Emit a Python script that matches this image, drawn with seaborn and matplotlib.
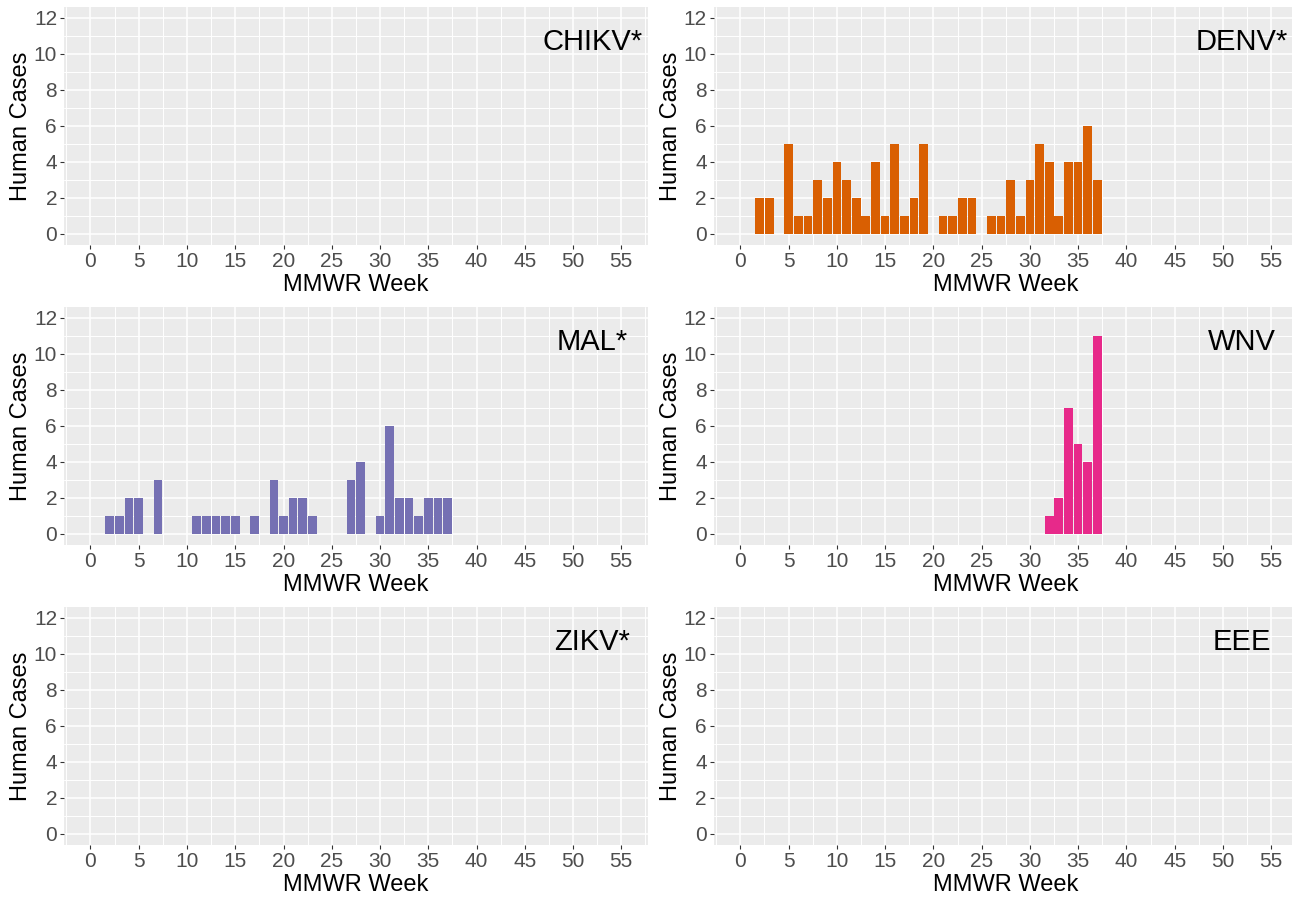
import numpy as np
import pandas as pd
import matplotlib
matplotlib.use("Agg")
import matplotlib.pyplot as plt
import seaborn as sns
from matplotlib.ticker import MultipleLocator

# panel order and colours (Dark2)
diseases = ["CHIKV*", "DENV*", "MAL*", "WNV", "ZIKV*", "EEE"]
colors = ["#1B9E77", "#D95F02", "#7570B3", "#E7298A", "#66A61E", "#E6AB02"]

# human cases by MMWR week
denv_weeks = [2, 3, 5, 6, 7, 8, 9, 10, 11, 12, 13, 14, 15, 16, 17, 18, 19,
              21, 22, 23, 24, 26, 27, 28, 29, 30, 31, 32, 33, 34, 35, 36, 37]
denv_cases = [2, 2, 5, 1, 1, 3, 2, 4, 3, 2, 1, 4, 1, 5, 1, 2, 5,
              1, 1, 2, 2, 1, 1, 3, 1, 3, 5, 4, 1, 4, 4, 6, 3]

mal_weeks = [2, 3, 4, 5, 7, 11, 12, 13, 14, 15, 17, 19, 20, 21, 22, 23,
             27, 28, 30, 31, 32, 33, 34, 35, 36, 37]
mal_cases = [1, 1, 2, 2, 3, 1, 1, 1, 1, 1, 1, 3, 1, 2, 2, 1,
             3, 4, 1, 6, 2, 2, 1, 2, 2, 2]

wnv_weeks = [32, 33, 34, 35, 36, 37]
wnv_cases = [1, 2, 7, 5, 4, 11]

chikv_weeks, chikv_cases = [], []
zikv_weeks, zikv_cases = [], []
eee_weeks, eee_cases = [], []

all_weeks = [chikv_weeks, denv_weeks, mal_weeks, wnv_weeks, zikv_weeks, eee_weeks]
all_cases = [chikv_cases, denv_cases, mal_cases, wnv_cases, zikv_cases, eee_cases]

sns.set_theme(style="darkgrid", rc={
    "axes.facecolor": "#EBEBEB",
    "grid.color": "white",
    "axes.edgecolor": "#EBEBEB",
})
plt.rcParams["font.family"] = ["Liberation Sans", "DejaVu Sans"]

fig = plt.figure(figsize=(12.92, 8.99), dpi=100)

lefts = [0.0495, 0.5525]
bottoms = [0.7277, 0.394, 0.0603]
w, h = 0.4519, 0.2643

for i, name in enumerate(diseases):
    r, c = divmod(i, 2)
    ax = fig.add_axes([lefts[c], bottoms[r], w, h])
    df = pd.DataFrame({"week": all_weeks[i], "cases": all_cases[i]})
    if len(df) > 0:
        sns.barplot(data=df, x="week", y="cases", native_scale=True,
                    color=colors[i], saturation=1, width=0.9,
                    errorbar=None, ax=ax, linewidth=0)
    ax.set_xlim(-2.75, 57.75)
    ax.set_ylim(-0.6, 12.6)
    ax.xaxis.set_major_locator(MultipleLocator(5))
    ax.xaxis.set_minor_locator(MultipleLocator(2.5))
    ax.yaxis.set_major_locator(MultipleLocator(2))
    ax.yaxis.set_minor_locator(MultipleLocator(1))
    ax.grid(which="major", color="white", linewidth=1.1)
    ax.grid(which="minor", color="white", linewidth=0.7)
    ax.set_axisbelow(True)
    for s in ax.spines.values():
        s.set_visible(False)
    ax.tick_params(which="major", length=3, width=0.8, color="#333333",
                   labelsize=15, labelcolor="#4D4D4D", pad=2,
                   bottom=True, left=True)
    ax.tick_params(which="minor", length=0)
    ax.set_xlabel("MMWR Week", fontsize=17, color="black", labelpad=2)
    ax.set_ylabel("Human Cases", fontsize=17, color="black", labelpad=1)
    ax.text(52, 10.22, name, fontsize=21, ha="center", va="baseline",
            color="black")

fig.savefig("out.png", dpi=100)
